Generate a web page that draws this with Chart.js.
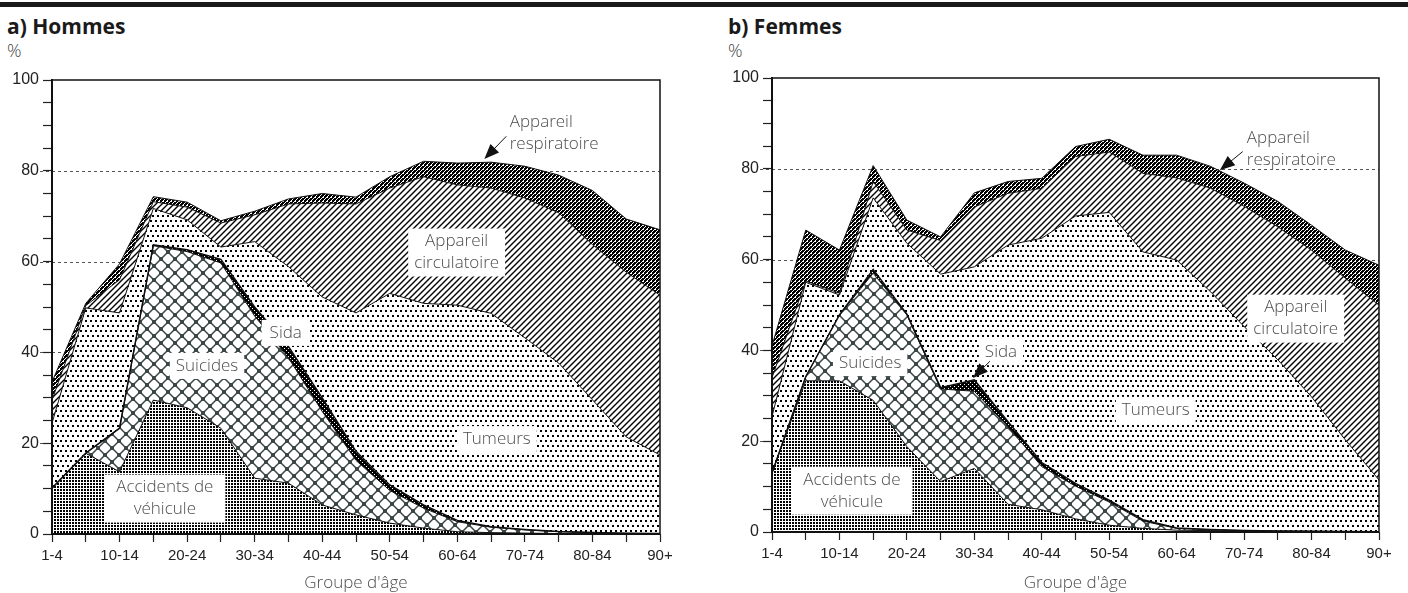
<!DOCTYPE html>
<html>
<head>
<meta charset="utf-8">
<script src="https://cdn.jsdelivr.net/npm/chart.js@4.4.1/dist/chart.umd.min.js"></script>
<style>
  body { margin: 0; background: #fff; width: 1408px; height: 593px; position: relative; overflow: hidden; }
  #bar { position: absolute; left: 0; top: 2px; width: 1408px; height: 5px; background: #1a1a1a; }
  .title { position: absolute; top: 14px; font: bold 21px "Open Sans", sans-serif; color: #1a1a1a; line-height: 1.2; }
  .pct { position: absolute; top: 40px; font: 300 18px "Open Sans", sans-serif; color: #444; line-height: 1.2; }
  canvas { position: absolute; top: 0; }
</style>
</head>
<body>
<div id="bar"></div>
<div class="title" style="left:7px">a) Hommes</div>
<div class="pct" style="left:7px">%</div>
<div class="title" style="left:728px">b) Femmes</div>
<div class="pct" style="left:728px">%</div>
<canvas id="hommes" width="700" height="593" style="left:0"></canvas>
<canvas id="femmes" width="688" height="593" style="left:720px"></canvas>
<script>
const ageGroups = ["1-4", "5-9", "10-14", "15-19", "20-24", "25-29", "30-34", "35-39", "40-44",
  "45-49", "50-54", "55-59", "60-64", "65-69", "70-74", "75-79", "80-84", "85-89", "90+"];

// Hommes (% des décès)
const hommesAccidents = [10.1, 17.8, 13.7, 29.5, 27.8, 23.3, 12.3, 11.2, 6.4, 4.2, 2.4, 1.3, 0.5, 0.3, 0.2, 0.1, 0.1, 0.05, 0.02];
const hommesSuicides = [0, 0, 9.6, 34.0, 34.4, 36.4, 35.7, 27.6, 20.6, 12.0, 7.2, 4.4, 2.2, 1.2, 0.7, 0.4, 0.2, 0.1, 0.06];
const hommesSida = [0, 0, 0, 0.2, 0.4, 0.8, 2.0, 2.5, 3.0, 2.0, 1.2, 0.7, 0.3, 0.1, 0.1, 0.05, 0.05, 0.03, 0.02];
const hommesTumeurs = [14.3, 32.0, 25.4, 8.0, 6.6, 2.7, 14.4, 17.6, 22.2, 30.5, 42.2, 44.4, 47.4, 47.0, 42.2, 37.1, 29.2, 21.2, 17.3];
const hommesCirculatoire = [5.1, 0.5, 7.3, 1.5, 2.8, 5.3, 5.9, 13.8, 20.7, 24.0, 23.2, 27.9, 26.5, 27.6, 30.8, 33.1, 34.2, 36.3, 35.2];
const hommesRespiratoire = [4.0, 0.5, 3.5, 1.1, 1.1, 0.5, 0.8, 1.1, 2.1, 1.5, 2.5, 3.4, 4.8, 5.7, 7.0, 8.3, 11.9, 11.7, 14.4];

// Femmes (% des décès)
const femmesAccidents = [13.0, 33.3, 33.3, 29.0, 18.8, 11.1, 14.0, 6.1, 4.9, 2.9, 1.5, 0.8, 0.4, 0.3, 0.2, 0.1, 0.1, 0.05, 0.02];
const femmesSuicides = [0, 0.9, 14.5, 28.0, 29.0, 20.4, 17.0, 17.1, 9.5, 7.2, 5.1, 1.6, 0.4, 0.2, 0.1, 0.1, 0.05, 0.05, 0.03];
const femmesSida = [0, 0, 0, 0.8, 0.2, 0.3, 2.5, 1.1, 0.9, 0.6, 0.4, 0.3, 0.1, 0.05, 0.05, 0.02, 0.02, 0.01, 0.01];
const femmesTumeurs = [12.4, 20.8, 4.4, 15.8, 15.6, 25.0, 24.9, 38.9, 49.4, 58.9, 63.4, 59.0, 59.0, 52.4, 44.9, 37.7, 29.6, 20.2, 11.4];
const femmesCirculatoire = [8.6, 0.3, 0.4, 3.6, 2.9, 7.4, 13.2, 11.4, 11.0, 13.1, 13.3, 17.3, 18.1, 22.8, 26.5, 29.3, 32.3, 35.6, 38.5];
const femmesRespiratoire = [7.0, 11.2, 9.5, 3.5, 2.2, 0.8, 3.1, 2.6, 2.2, 2.2, 2.8, 4.0, 5.0, 4.8, 5.1, 5.6, 5.5, 6.2, 8.8];

const gridValues = [20, 40, 60, 80];

// motifs de remplissage
function tile(w, h, bg, paint) {
  const c = document.createElement("canvas");
  c.width = w; c.height = h;
  const g = c.getContext("2d");
  g.fillStyle = bg;
  g.fillRect(0, 0, w, h);
  g.fillStyle = "#000";
  g.strokeStyle = "#000";
  paint(g);
  return g.createPattern(c, "repeat");
}

const patAccidents = tile(3, 3, "#fff", g => {
  g.fillRect(0, 0, 2, 2);
});
const patSuicides = tile(14, 14, "#fff", g => {
  g.strokeStyle = "#3b4646";
  g.lineWidth = 1.5;
  g.beginPath();
  g.moveTo(0, 0); g.lineTo(14, 14);
  g.moveTo(14, 0); g.lineTo(0, 14);
  g.stroke();
  g.fillStyle = "#3b4646";
  g.fillRect(5, 5, 4, 4);
  g.fillRect(0, 0, 2, 2); g.fillRect(12, 0, 2, 2); g.fillRect(0, 12, 2, 2); g.fillRect(12, 12, 2, 2);
});
const patSida = tile(4, 4, "#000", g => {
  g.fillStyle = "#fff";
  g.fillRect(0, 0, 1, 1);
  g.fillRect(2, 2, 1, 1);
});
const patTumeurs = tile(10, 10, "#fff", g => {
  [[0, 0], [5, 0], [2, 5], [7, 5]].forEach(([x, y]) => g.fillRect(x, y, 2, 2));
});
const patCirculatoire = tile(6, 6, "#fff", g => {
  g.lineWidth = 1.4;
  g.beginPath();
  g.moveTo(-1, 7); g.lineTo(7, -1);
  g.moveTo(-1, 1); g.lineTo(1, -1);
  g.moveTo(5, 7); g.lineTo(7, 5);
  g.stroke();
});
const patRespiratoire = tile(4, 4, "#fff", g => {
  g.fillRect(0, 0, 2, 2);
  g.fillRect(2, 2, 2, 2);
  g.fillRect(2, 0, 1, 1);
  g.fillRect(0, 2, 1, 1);
  g.fillRect(1, 3, 1, 1);
});

const labelFont = '300 17px "Open Sans", sans-serif';

const extras = {
  id: "extras",
  beforeDraw(chart) {
    const { ctx, chartArea: a } = chart;
    const y = chart.scales.y;
    ctx.save();
    ctx.strokeStyle = "#555";
    ctx.lineWidth = 1;
    ctx.setLineDash([3, 3]);
    gridValues.forEach(v => {
      const py = Math.round(y.getPixelForValue(v)) + 0.5;
      ctx.beginPath();
      ctx.moveTo(a.left - 12, py);
      ctx.lineTo(a.right, py);
      ctx.stroke();
    });
    ctx.restore();
  },
  afterDatasetsDraw(chart, args, opts) {
    const { ctx, chartArea: a } = chart;
    const xs = chart.scales.x, ys = chart.scales.y;
    ctx.save();

    // cadre
    ctx.strokeStyle = "#111";
    ctx.lineWidth = 1.5;
    ctx.beginPath();
    ctx.moveTo(a.left, a.top); ctx.lineTo(a.right, a.top); ctx.lineTo(a.right, a.bottom);
    ctx.stroke();
    ctx.lineWidth = 2;
    ctx.beginPath();
    ctx.moveTo(a.left, a.top - 1); ctx.lineTo(a.left, a.bottom); ctx.lineTo(a.right, a.bottom);
    ctx.stroke();

    // étiquettes
    ctx.font = labelFont;
    ctx.textBaseline = "middle";
    const lh = 22;
    opts.labels.forEach(l => {
      const px = xs.getPixelForValue(l.x);
      const py = ys.getPixelForValue(l.y);
      const widths = l.text.map(t => ctx.measureText(t).width);
      const w = Math.max(...widths);
      const h = l.text.length * lh;
      const left = l.align === "left" ? px : px - w / 2;
      if (l.box) {
        const p = l.pad || 6;
        ctx.fillStyle = "#fff";
        ctx.fillRect(left - p, py - h / 2 - 2, w + 2 * p, h + 4);
      }
      ctx.fillStyle = "#4d4d4d";
      l.text.forEach((t, i) => {
        const tx = l.align === "left" ? left : px - widths[i] / 2;
        ctx.fillText(t, tx, py - h / 2 + lh / 2 + i * lh);
      });
      if (l.arrow) {
        const x1 = xs.getPixelForValue(l.arrow[0]), y1 = ys.getPixelForValue(l.arrow[1]);
        const x2 = xs.getPixelForValue(l.arrow[2]), y2 = ys.getPixelForValue(l.arrow[3]);
        const ang = Math.atan2(y2 - y1, x2 - x1);
        ctx.strokeStyle = "#111";
        ctx.lineWidth = 1;
        ctx.beginPath();
        ctx.moveTo(x1, y1);
        ctx.lineTo(x2 - 10 * Math.cos(ang), y2 - 10 * Math.sin(ang));
        ctx.stroke();
        ctx.fillStyle = "#111";
        ctx.beginPath();
        ctx.moveTo(x2, y2);
        ctx.lineTo(x2 - 15 * Math.cos(ang) + 6 * Math.sin(ang), y2 - 15 * Math.sin(ang) - 6 * Math.cos(ang));
        ctx.lineTo(x2 - 15 * Math.cos(ang) - 6 * Math.sin(ang), y2 - 15 * Math.sin(ang) + 6 * Math.cos(ang));
        ctx.closePath();
        ctx.fill();
      }
    });

    // titre de l'axe
    ctx.fillStyle = "#4d4d4d";
    ctx.textAlign = "center";
    ctx.fillText("Groupe d'âge", (a.left + a.right) / 2, 583);
    ctx.restore();
  }
};

function areaChart(id, series, labels, padTop, padRight, xHeight) {
  const patterns = [patAccidents, patSuicides, patSida, patTumeurs, patCirculatoire, patRespiratoire];
  const names = ["Accidents de véhicule", "Suicides", "Sida", "Tumeurs", "Appareil circulatoire", "Appareil respiratoire"];
  new Chart(document.getElementById(id), {
    type: "line",
    data: {
      labels: ageGroups,
      datasets: series.map((s, i) => ({
        label: names[i],
        data: s,
        fill: i === 0 ? "origin" : "-1",
        backgroundColor: patterns[i],
        borderColor: "#111",
        borderWidth: i === 2 ? 1.5 : 1,
        pointRadius: 0,
        tension: 0
      }))
    },
    options: {
      responsive: false,
      animation: false,
      devicePixelRatio: 1,
      events: [],
      layout: { padding: { left: 0, top: padTop, right: padRight, bottom: 0 } },
      plugins: {
        legend: { display: false },
        tooltip: { enabled: false },
        filler: { drawTime: "beforeDatasetsDraw" },
        extras: { labels: labels }
      },
      scales: {
        x: {
          offset: false,
          afterFit: s => { s.height = xHeight; },
          border: { display: false },
          grid: { drawOnChartArea: false, drawTicks: true, tickLength: 8, tickColor: "#222", tickWidth: 1.2 },
          ticks: {
            autoSkip: false, maxRotation: 0, minRotation: 0, padding: 5,
            color: "#222", font: { family: "Liberation Sans", size: 15 },
            callback: (v, i) => (i % 2 === 0 ? ageGroups[i] : "")
          }
        },
        y: {
          stacked: true,
          min: 0, max: 100,
          afterFit: s => { s.width = 52; },
          border: { display: false },
          grid: { drawOnChartArea: false, drawTicks: true, tickLength: 9, tickColor: "#222", tickWidth: 1.2 },
          ticks: {
            stepSize: 5, padding: 4,
            color: "#222", font: { family: "Liberation Sans", size: 16 },
            callback: v => (v % 20 === 0 ? v : "")
          }
        }
      }
    },
    plugins: [extras]
  });
}

areaChart("hommes",
  [hommesAccidents, hommesSuicides, hommesSida, hommesTumeurs, hommesCirculatoire, hommesRespiratoire],
  [
    { text: ["Appareil", "respiratoire"], x: 13.55, y: 88.2, align: "left", arrow: [13.45, 87.6, 12.8, 82.6] },
    { text: ["Appareil", "circulatoire"], x: 11.98, y: 62.0, box: true },
    { text: ["Sida"], x: 6.92, y: 44.3, box: true, pad: 8 },
    { text: ["Suicides"], x: 4.59, y: 37.0, box: true },
    { text: ["Tumeurs"], x: 13.17, y: 20.9, box: true },
    { text: ["Accidents de", "véhicule"], x: 3.34, y: 7.8, box: true, pad: 12 }
  ], 80, 40, 59);

areaChart("femmes",
  [femmesAccidents, femmesSuicides, femmesSida, femmesTumeurs, femmesCirculatoire, femmesRespiratoire],
  [
    { text: ["Appareil", "respiratoire"], x: 14.08, y: 84.4, align: "left", arrow: [13.96, 83.8, 13.28, 79.7] },
    { text: ["Appareil", "circulatoire"], x: 15.53, y: 47.0, box: true },
    { text: ["Tumeurs"], x: 11.38, y: 26.9, box: true },
    { text: ["Sida"], x: 6.79, y: 39.6, box: true, arrow: [6.46, 37.6, 5.96, 33.9] },
    { text: ["Suicides"], x: 2.91, y: 37.2, box: true },
    { text: ["Accidents de", "véhicule"], x: 2.37, y: 9.1, box: true, pad: 12 }
  ], 78, 29, 61);
</script>
</body>
</html>
